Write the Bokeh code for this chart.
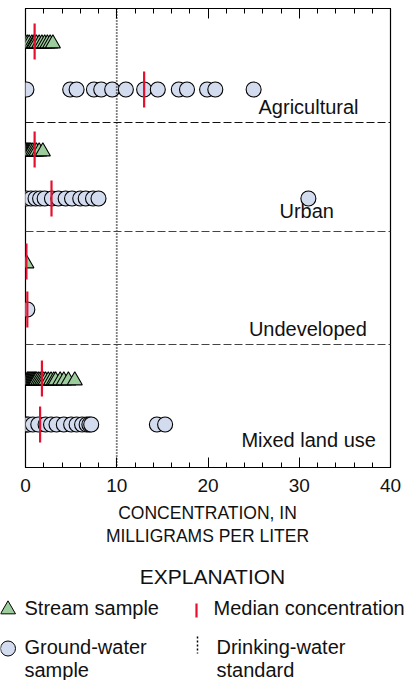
from bokeh.plotting import figure
from bokeh.models import ColumnDataSource, Range1d, LinearAxis, FixedTicker, Span
from bokeh.layouts import column
from bokeh.embed import file_html
from bokeh.resources import INLINE
from bokeh.core.properties import value

# ---------------- data ----------------
land_uses = ["Agricultural", "Urban", "Undeveloped", "Mixed land use"]

agr_stream = [0.0, 0.2, 0.4, 0.7, 0.9, 1.0, 1.2, 1.5, 1.8, 2.1, 2.4, 2.7, 3.0]
agr_gw = [0.1, 4.9, 5.6, 7.5, 8.3, 9.5, 11.0, 13.0, 14.5, 16.8, 17.7, 19.9, 20.8, 25.0]
urban_stream = [0.0, 0.1, 0.2, 0.3, 0.4, 0.5, 0.6, 0.8, 1.0, 1.2, 1.5, 1.9]
urban_gw = [0.1, 0.6, 1.1, 1.6, 2.1, 2.9, 3.6, 4.4, 5.1, 6.0, 6.6, 7.4, 8.0, 31.0]
undev_stream = [0.1]
undev_gw = [0.2]
mixed_stream = [0.2, 0.3, 0.4, 0.5, 0.6, 0.7, 0.8, 0.9, 1.0, 1.1, 1.2, 1.4, 1.6,
                1.8, 2.0, 2.2, 2.5, 2.8, 3.1, 3.3, 3.8, 4.2, 4.7, 5.4]
mixed_gw = [0.1, 0.3, 0.8, 1.4, 2.2, 2.8, 3.4, 4.2, 5.0, 5.6, 6.2, 6.7, 7.0, 7.2, 14.4, 15.3]

stream_medians = [1.0, 1.0, 0.1, 1.8]
gw_medians = [13.0, 2.85, 0.2, 1.6]

drinking_water_standard = 10
x_ticks = [0, 10, 20, 30, 40]

# ---------------- layout constants ----------------
FONT = "Liberation Sans"
GREEN = "#9dcd9d"
BLUE = "#d3dbef"
RED = "#e5102e"

stream_rows = [35, 143, 255, 372]
gw_rows = [81, 190, 301, 416]
separators = [114, 223, 336]
label_x = [36.5, 33.8, 37.4, 38.4]
label_y = [98, 202, 320, 431]

stream_sets = [agr_stream, urban_stream, undev_stream, mixed_stream]
gw_sets = [agr_gw, urban_gw, undev_gw, mixed_gw]

sx, sy, gx, gy = [], [], [], []
for vals, r in zip(stream_sets, stream_rows):
    sx += vals
    sy += [r] * len(vals)
for vals, r in zip(gw_sets, gw_rows):
    gx += vals
    gy += [r] * len(vals)

p = figure(width=415, height=503, output_backend="svg", toolbar_location=None,
           x_range=Range1d(0, 40), y_range=Range1d(459, 0),
           x_axis_type=None, y_axis_type=None,
           min_border_left=25, min_border_right=25, min_border_top=8, min_border_bottom=36)
p.xgrid.visible = False
p.ygrid.visible = False
p.outline_line_color = "black"
p.outline_line_width = 1.2
p.background_fill_color = "white"

for where in ("below", "above"):
    ax = LinearAxis(ticker=FixedTicker(ticks=x_ticks, minor_ticks=list(range(0, 41, 2))))
    ax.major_tick_in = 10
    ax.major_tick_out = 0
    ax.minor_tick_in = 5
    ax.minor_tick_out = 0
    ax.axis_line_color = "black"
    ax.major_tick_line_color = "black"
    ax.minor_tick_line_color = "black"
    if where == "below":
        ax.major_label_text_font = FONT
        ax.major_label_text_font_size = "19px"
        ax.major_label_text_color = "#111111"
        ax.major_label_standoff = 11
    else:
        ax.major_label_text_font_size = "0px"
        ax.major_label_text_color = None
        ax.major_label_standoff = 0
    p.add_layout(ax, where)

# drinking-water standard
p.add_layout(Span(location=drinking_water_standard, dimension="height",
                  line_color="black", line_dash="1 2", line_width=1.8))
# separators
for i, s in enumerate(separators):
    p.add_layout(Span(location=s, dimension="width",
                      line_color="#111111" if i == 0 else "#444444",
                      line_dash="8 3", line_width=1.2))

p.scatter(x=gx, y=gy, marker="circle", size=15, fill_color=BLUE,
          line_color="black", line_width=1.1)
p.scatter(x=sx, y=sy, marker="triangle", size=15, fill_color=GREEN,
          line_color="black", line_width=1.1)

med_src = ColumnDataSource(dict(
    x=stream_medians + gw_medians,
    y0=[r - 20 for r in stream_rows] + [r - 18 for r in gw_rows],
    y1=[r + 16 for r in stream_rows] + [r + 18 for r in gw_rows],
))
p.segment(x0="x", y0="y0", x1="x", y1="y1", source=med_src,
          line_color=RED, line_width=2.2)

p.text(x=label_x, y=label_y, text=land_uses, text_font=value(FONT),
       text_font_size="20px", text_align="right", text_baseline="alphabetic",
       text_color="#111111")

# ---------------- axis title + explanation ----------------
q = figure(width=415, height=177, output_backend="svg", toolbar_location=None,
           x_range=Range1d(0, 415), y_range=Range1d(177, 0),
           x_axis_type=None, y_axis_type=None,
           min_border=0, min_border_left=0, min_border_right=0,
           min_border_top=0, min_border_bottom=0)
q.xgrid.visible = False
q.ygrid.visible = False
q.outline_line_color = None

# keep each figure's frame where its own borders put it
for fig in (p, q):
    if hasattr(fig, "frame_align"):
        fig.frame_align = False

q.text(x=[207, 207], y=[9, 32], text=["CONCENTRATION, IN", "MILLIGRAMS PER LITER"],
       text_font=value(FONT), text_font_size="17.5px", text_align="center",
       text_baseline="alphabetic", text_color="#111111")
q.text(x=[212], y=[73], text=["EXPLANATION"], text_font=value(FONT),
       text_font_size="21px", text_align="center", text_baseline="alphabetic",
       text_color="#111111")

q.scatter(x=[7.5], y=[106], marker="triangle", size=15, fill_color=GREEN,
          line_color="black", line_width=1)
q.scatter(x=[7.5], y=[145], marker="circle", size=15, fill_color=BLUE,
          line_color="black", line_width=1)
q.segment(x0=[196], y0=[100], x1=[196], y1=[114], line_color=RED, line_width=2.2)
q.segment(x0=[197], y0=[133], x1=[197], y1=[150], line_color="black",
          line_width=1.5, line_dash="2 2")

q.text(x=[24, 213, 24, 24, 216, 216], y=[104, 104, 143, 166, 143, 166],
       text=["Stream sample", "Median concentration", "Ground-water", "sample",
             "Drinking-water", "standard"],
       text_font=value(FONT), text_font_size="20px", text_align="left",
       text_baseline="alphabetic", text_color="#111111")

layout = column(p, q, spacing=0)
open("out.html", "w").write(file_html(layout, INLINE))
